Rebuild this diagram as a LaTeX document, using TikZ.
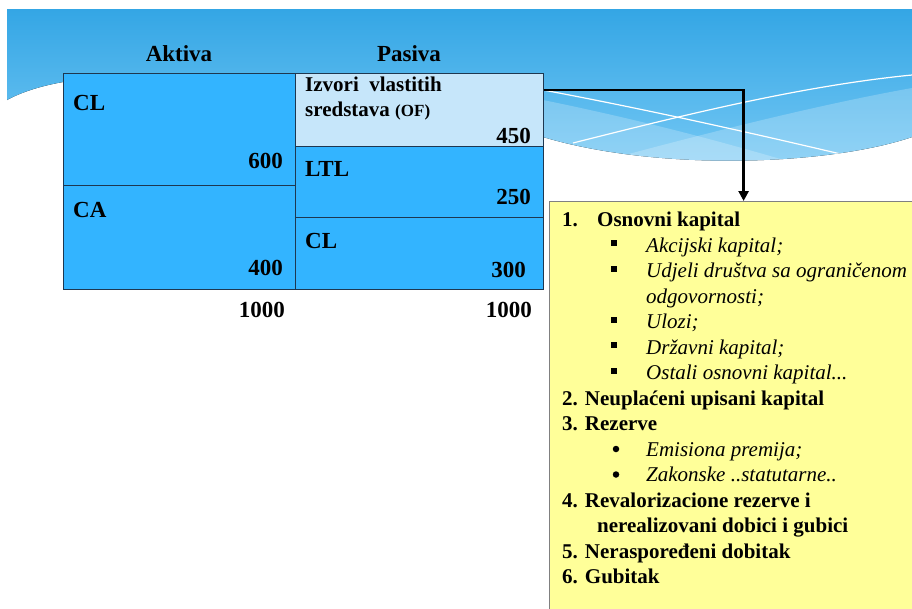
\documentclass[tikz,border=0pt]{standalone}
\usepackage{fontspec}
\setmainfont{Liberation Serif}
\usetikzlibrary{arrows.meta}

\definecolor{bandtop}{RGB}{52,166,229}
\definecolor{bandbot}{RGB}{130,207,247}
\definecolor{boxblue}{RGB}{51,180,255}
\definecolor{boxpale}{RGB}{198,230,250}
\definecolor{boxline}{RGB}{30,55,80}
\definecolor{listyellow}{RGB}{255,255,153}

\newcommand{\bandoutline}{(7,9) -- (912,9) -- (912,137) .. controls (830,165) and (660,172) .. (543,137)
    -- (300,200) -- (63,82) .. controls (35,87) and (18,94) .. (7,100) -- cycle}

\begin{document}
\begin{tikzpicture}[x=1pt, y=-1pt,
        cell/.style={draw=boxline, line width=0.8pt, fill=boxblue, anchor=north west, inner sep=0pt},
        lbl/.style={font=\fontsize{23}{23}\selectfont\bfseries, inner sep=0pt},
        entry/.style={font=\fontsize{21}{21}\selectfont\bfseries, anchor=base west, inner sep=0pt},
        sub/.style={font=\fontsize{21}{21}\selectfont\itshape, anchor=base west, inner sep=0pt},
        sqmark/.style={fill=black, inner sep=0pt, minimum size=6pt},
        dotmark/.style={circle, fill=black, inner sep=0pt, minimum size=6.5pt},
        flow/.style={line width=2.5pt, -{Triangle[length=10pt,width=10pt]}}]
    \useasboundingbox (0,0) rectangle (912,608);
    \clip (0,0) rectangle (912,608);

    % slide background
    \fill[white] (0,0) rectangle (912,608);
    \fill[top color=bandtop, bottom color=bandbot] \bandoutline;
    \begin{scope}
        \clip \bandoutline;
        \fill[white, opacity=0.22] (543,100) .. controls (650,122) and (760,150) .. (912,200) -- (540,200) -- cycle;
        \fill[white, opacity=0.22] (912,88) .. controls (800,108) and (660,145) .. (540,178) -- (540,200) -- (912,200) -- cycle;
        \draw[white, line width=1.2pt] (543,90) .. controls (650,110) and (760,135) .. (845,155);
        \draw[white, line width=1.2pt] (573,143) .. controls (680,116) and (800,86) .. (912,75);
    \end{scope}

    % balance sheet
    \node[lbl, anchor=base] (aktiva) at (179,61) {Aktiva};
    \node[lbl, anchor=base] (pasiva) at (409,61) {Pasiva};

    \node[cell, minimum width=232, minimum height=112] (clA) at (63,73) {};
    \node[cell, minimum width=232, minimum height=104] (caA) at (63,185) {};
    \node[cell, fill=boxpale, minimum width=248, minimum height=73] (izv) at (295,73) {};
    \node[cell, minimum width=248, minimum height=71] (ltl) at (295,146) {};
    \node[cell, minimum width=248, minimum height=72] (clP) at (295,217) {};

    \node[lbl, anchor=base west] (clAtxt) at (73,110) {CL};
    \node[lbl, anchor=base east] (clAval) at (283,168) {600};
    \node[lbl, anchor=base west] (caAtxt) at (73,217) {CA};
    \node[lbl, anchor=base east] (caAval) at (283,275) {400};

    \node[entry] (izvtxt) at (305,91) {Izvori\ \ vlastitih};
    \node[entry] (izvtxtb) at (305,116) {sredstava {\fontsize{17}{17}\selectfont (OF)}};
    \node[lbl, anchor=base east] (izvval) at (531,143) {450};
    \node[lbl, anchor=base west] (ltltxt) at (305,176) {LTL};
    \node[lbl, anchor=base east] (ltlval) at (531,204) {250};
    \node[lbl, anchor=base west] (clPtxt) at (305,248) {CL};
    \node[lbl, anchor=base east] (clPval) at (526,277) {300};

    \node[lbl, anchor=base east] (sumA) at (285,317) {1000};
    \node[lbl, anchor=base east] (sumP) at (532,317) {1000};

    % equity breakdown
    \node[draw=gray, line width=1.2pt, fill=listyellow, anchor=north west,
        minimum width=388, minimum height=420] (eqbox) at (549,201) {};
    \draw[flow] ([yshift=-17pt]izv.north east) -| (eqbox.north);

    \node[entry] (r1) at (562,226.5) {\makebox[35pt][l]{1.}Osnovni kapital};
    \node[sqmark] (b1) at (614,243) {};
    \node[sub] (r1a) at (646,252) {Akcijski kapital;};
    \node[sqmark] (b2) at (614,268.5) {};
    \node[sub] (r1b) at (646,277.5) {Udjeli društva sa ograničenom};
    \node[sub] (r1bb) at (646,303) {odgovornosti;};
    \node[sqmark] (b3) at (614,319.5) {};
    \node[sub] (r1c) at (646,328.5) {Ulozi;};
    \node[sqmark] (b4) at (614,345) {};
    \node[sub] (r1d) at (646,354) {Državni kapital;};
    \node[sqmark] (b5) at (614,370.5) {};
    \node[sub] (r1e) at (646,379.5) {Ostali osnovni kapital...};
    \node[entry] (r2) at (562,405) {2. Neuplaćeni upisani kapital};
    \node[entry] (r3) at (562,430.5) {3. Rezerve};
    \node[dotmark] (b6) at (616,449) {};
    \node[sub] (r3a) at (646,456) {Emisiona premija;};
    \node[dotmark] (b7) at (616,474.5) {};
    \node[sub] (r3b) at (646,481.5) {Zakonske ..statutarne..};
    \node[entry] (r4) at (562,507) {4. Revalorizacione rezerve i};
    \node[entry] (r4b) at (597,532.5) {nerealizovani dobici i gubici};
    \node[entry] (r5) at (562,558) {5. Neraspoređeni dobitak};
    \node[entry] (r6) at (562,583.5) {6. Gubitak};
\end{tikzpicture}
\end{document}
